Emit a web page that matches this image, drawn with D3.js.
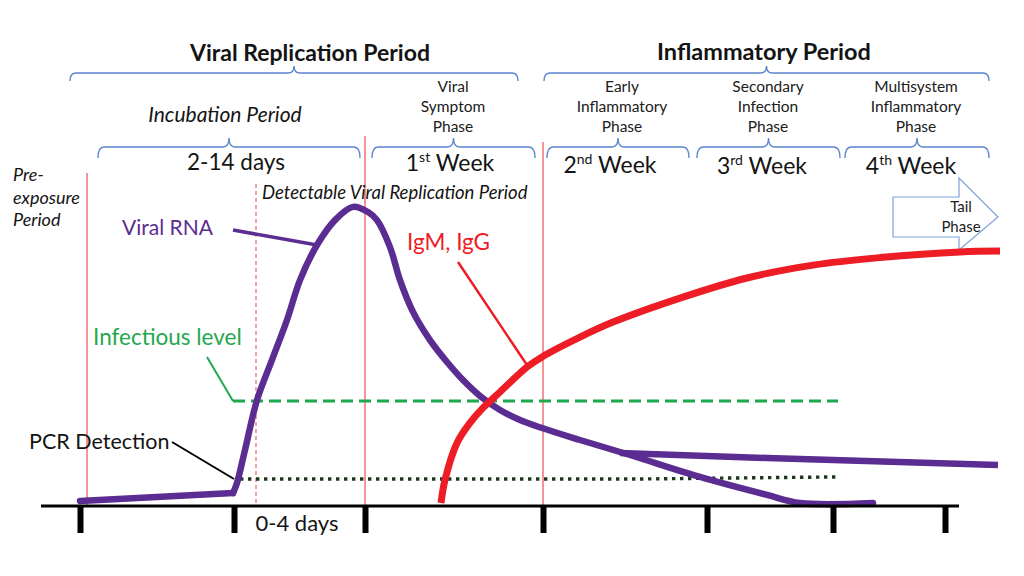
<!DOCTYPE html>
<html><head><meta charset="utf-8">
<script src="https://cdn.jsdelivr.net/npm/d3@7"></script>
<style>
html,body{margin:0;padding:0;background:#fff;}
svg{display:block;font-family:Lato,"Open Sans",sans-serif;}
</style></head><body>
<svg id="c" width="1024" height="576"></svg>
<script>
// ---- data (time units t, level units 0-100) ----
const viralRNA = [[4,1.7],[19.3,4.3],[19.7,7.7],[20.5,18.7],[21.7,35.3],[23.2,48.7],[24.7,62],[26,75.3],[27.7,87],[29.5,95.3],[31.3,99.7],[32.8,98],[33.7,95.3],[35,86.3],[36,75.3],[37.3,64.7],[39,55.3],[40.7,48],[42.3,42],[44,36.7],[46,32],[48,28.7],[50.2,26],[54,22],[59,17],[66,9.7],[72.7,3.7],[76,1],[83.3,1]];
const viralRNATail = [[58,17.7],[72.7,16],[95.8,13.7]];
const igmIgg = [[40.1,1],[40.5,8.7],[41.7,21],[43,27.7],[44.3,32.7],[46,38],[48.7,46.3],[50.2,49.7],[54,56.3],[57.3,61.3],[64,69.3],[70.7,76],[77.3,80.3],[84,82.8],[92,84.7],[96,85]];
const infectiousLevel = [[19.3,35],[79.8,35]];
const pcrDetection = [[20,9],[60,9],[79.8,9.7]];
const axisTicks = [4,19.4,32.5,50.3,66.7,79.3,90.5];
const phaseLines = [4.7,32.5,50.3];
const detectableStart = 21.6;
const topPeriods = [
  {label:"Viral Replication Period", start:3.0, end:47.8},
  {label:"Inflammatory Period", start:50.4, end:94.9}
];
const subPeriods = [
  {label:["2-14 days"], head:["Incubation Period"], start:5.8, end:32},
  {label:["1","st"," Week"], head:["Viral","Symptom","Phase"], start:33.2, end:49.5},
  {label:["2","nd"," Week"], head:["Early","Inflammatory","Phase"], start:50.7, end:64.9},
  {label:["3","rd"," Week"], head:["Secondary","Infection","Phase"], start:65.7, end:80},
  {label:["4","th"," Week"], head:["Multisystem","Inflammatory","Phase"], start:80.5, end:94.9}
];

// ---- scales ----
const x = d3.scaleLinear().domain([0,100]).range([40,1040]);
const y = d3.scaleLinear().domain([0,100]).range([506,206]);
const svg = d3.select("#c");
const line = d3.line().x(d=>x(d[0])).y(d=>y(d[1]));
const smooth = d3.line().x(d=>x(d[0])).y(d=>y(d[1])).curve(d3.curveCatmullRom.alpha(0.5));

const PURPLE="#5b2c91", RED="#ee1c25", GREEN="#1fa84f", BLUE="#5b84cf", LRED="#f07070", TXT="#141414";

// vertical phase lines
const vTop = [173,136,142];
phaseLines.forEach((t,i)=>{
  svg.append("line").attr("x1",x(t)).attr("x2",x(t)).attr("y1",vTop[i]).attr("y2",y(0))
    .attr("stroke",LRED).attr("stroke-width",1.5);
});
svg.append("line").attr("x1",x(detectableStart)).attr("x2",x(detectableStart)).attr("y1",184).attr("y2",y(0))
  .attr("stroke",LRED).attr("stroke-width",1.3).attr("stroke-dasharray","4,3");

// braces
function brace(x1,x2,yTop,yEnd,yNub){
  const m=(x1+x2)/2, r=6;
  return `M${x1},${yEnd} Q${x1},${yTop} ${x1+r},${yTop} L${m-r},${yTop} Q${m},${yTop} ${m},${yNub} Q${m},${yTop} ${m+r},${yTop} L${x2-r},${yTop} Q${x2},${yTop} ${x2},${yEnd}`;
}
topPeriods.forEach(p=>{
  svg.append("path").attr("d",brace(x(p.start),x(p.end),73,81,66))
    .attr("fill","none").attr("stroke",BLUE).attr("stroke-width",1.4);
});
subPeriods.forEach(p=>{
  svg.append("path").attr("d",brace(x(p.start),x(p.end),147,158,138))
    .attr("fill","none").attr("stroke",BLUE).attr("stroke-width",1.4);
});

// top titles
svg.append("text").attr("x",310).attr("y",61).attr("text-anchor","middle")
  .attr("font-size",23).attr("font-weight","bold").attr("fill",TXT).text(topPeriods[0].label);
svg.append("text").attr("x",764).attr("y",60).attr("text-anchor","middle")
  .attr("font-size",23.5).attr("font-weight","bold").attr("fill",TXT).text(topPeriods[1].label);

// Incubation Period
svg.append("text").attr("x",225).attr("y",122).attr("text-anchor","middle")
  .attr("font-size",21).attr("font-style","italic").attr("fill",TXT).text(subPeriods[0].head[0]);
// phase heads (3 lines)
const headX=[453,622,768,916];
subPeriods.slice(1).forEach((p,i)=>{
  const t=svg.append("text").attr("text-anchor","middle").attr("font-size",15.5).attr("fill","#202020");
  p.head.forEach((s,j)=>t.append("tspan").attr("x",headX[i]).attr("y",92+j*20).text(s));
});
// week labels
svg.append("text").attr("x",236).attr("y",170).attr("text-anchor","middle")
  .attr("font-size",22.5).attr("fill",TXT).text(subPeriods[0].label[0]);
const weekX=[450,610,762,911], weekY=[171,173,174,174];
subPeriods.slice(1).forEach((p,i)=>{
  const t=svg.append("text").attr("x",weekX[i]).attr("y",weekY[i]).attr("text-anchor","middle")
    .attr("font-size",23).attr("fill",TXT);
  t.append("tspan").text(p.label[0]);
  t.append("tspan").attr("font-size",14).attr("dy",-9).text(p.label[1]);
  t.append("tspan").attr("dy",9).text(p.label[2]);
});

// Pre-exposure Period
const pre=svg.append("text").attr("font-size",18).attr("font-style","italic").attr("fill",TXT);
["Pre-","exposure","Period"].forEach((s,j)=>pre.append("tspan").attr("x",13).attr("y",181+j*22.5).text(s));
// Detectable Viral Replication Period
svg.append("text").attr("x",262).attr("y",199).attr("font-size",18.5).attr("font-style","italic")
  .attr("fill",TXT).text("Detectable Viral Replication Period");

// Tail phase arrow
const ax1=893, ax2=959, atip=998, ry1=197, ry2=237, hy1=178, hy2=250, amid=217;
svg.append("path").attr("d",`M${ax1},${ry1} L${ax2},${ry1} L${ax2},${hy1} L${atip},${amid} L${ax2},${hy2} L${ax2},${ry2} L${ax1},${ry2} Z`)
  .attr("fill","#fff").attr("stroke","#7f9fd8").attr("stroke-width",1.2);
const tp=svg.append("text").attr("text-anchor","middle").attr("font-size",15).attr("fill","#202020");
["Tail","Phase"].forEach((s,j)=>tp.append("tspan").attr("x",961).attr("y",212+j*20).text(s));

// infectious level
svg.append("path").attr("d",line(infectiousLevel)).attr("fill","none").attr("stroke",GREEN)
  .attr("stroke-width",3).attr("stroke-dasharray","12,6");
svg.append("line").attr("x1",207).attr("y1",357).attr("x2",x(infectiousLevel[0][0])).attr("y2",y(infectiousLevel[0][1]))
  .attr("stroke",GREEN).attr("stroke-width",2);
svg.append("text").attr("x",93).attr("y",345).attr("font-size",22.5).attr("fill",GREEN).text("Infectious level");

// PCR detection
svg.append("path").attr("d",line(pcrDetection)).attr("fill","none").attr("stroke","#1d3a1d")
  .attr("stroke-width",3.4).attr("stroke-dasharray","3.4,4.6");
svg.append("line").attr("x1",172).attr("y1",442).attr("x2",234).attr("y2",479)
  .attr("stroke","#000").attr("stroke-width",2);
svg.append("text").attr("x",29).attr("y",449).attr("font-size",21.5).attr("fill",TXT).text("PCR Detection");

// Viral RNA
svg.append("path").attr("d",line(viralRNATail)).attr("fill","none").attr("stroke",PURPLE)
  .attr("stroke-width",6.5).attr("stroke-linecap","butt");
svg.append("path").attr("d",line(viralRNA.slice(0,2))).attr("fill","none").attr("stroke",PURPLE)
  .attr("stroke-width",6.5).attr("stroke-linecap","round");
svg.append("path").attr("d",smooth(viralRNA.slice(1))).attr("fill","none").attr("stroke",PURPLE)
  .attr("stroke-width",6.5).attr("stroke-linejoin","round").attr("stroke-linecap","round");
svg.append("line").attr("x1",233).attr("y1",230).attr("x2",317).attr("y2",245)
  .attr("stroke",PURPLE).attr("stroke-width",3.5);
svg.append("text").attr("x",122).attr("y",235).attr("font-size",21).attr("fill",PURPLE).text("Viral RNA");

// IgM, IgG
svg.append("path").attr("d",smooth(igmIgg)).attr("fill","none").attr("stroke",RED)
  .attr("stroke-width",7);
svg.append("line").attr("x1",458).attr("y1",262).attr("x2",527).attr("y2",365)
  .attr("stroke",RED).attr("stroke-width",2.5);
svg.append("text").attr("x",407).attr("y",250).attr("font-size",22.5).attr("fill",RED).text("IgM, IgG");

// axis
svg.append("line").attr("x1",41).attr("x2",959).attr("y1",y(0)).attr("y2",y(0))
  .attr("stroke","#000").attr("stroke-width",3);
const axis = d3.axisBottom(x).tickValues(axisTicks).tickSize(27).tickFormat("");
const ag = svg.append("g").attr("transform",`translate(0,${y(0)})`).call(axis);
ag.select(".domain").remove();
ag.selectAll(".tick line").attr("stroke","#000").attr("stroke-width",6);
svg.append("text").attr("x",297).attr("y",531).attr("text-anchor","middle").attr("font-size",22)
  .attr("fill",TXT).text("0-4 days");
</script></body></html>
